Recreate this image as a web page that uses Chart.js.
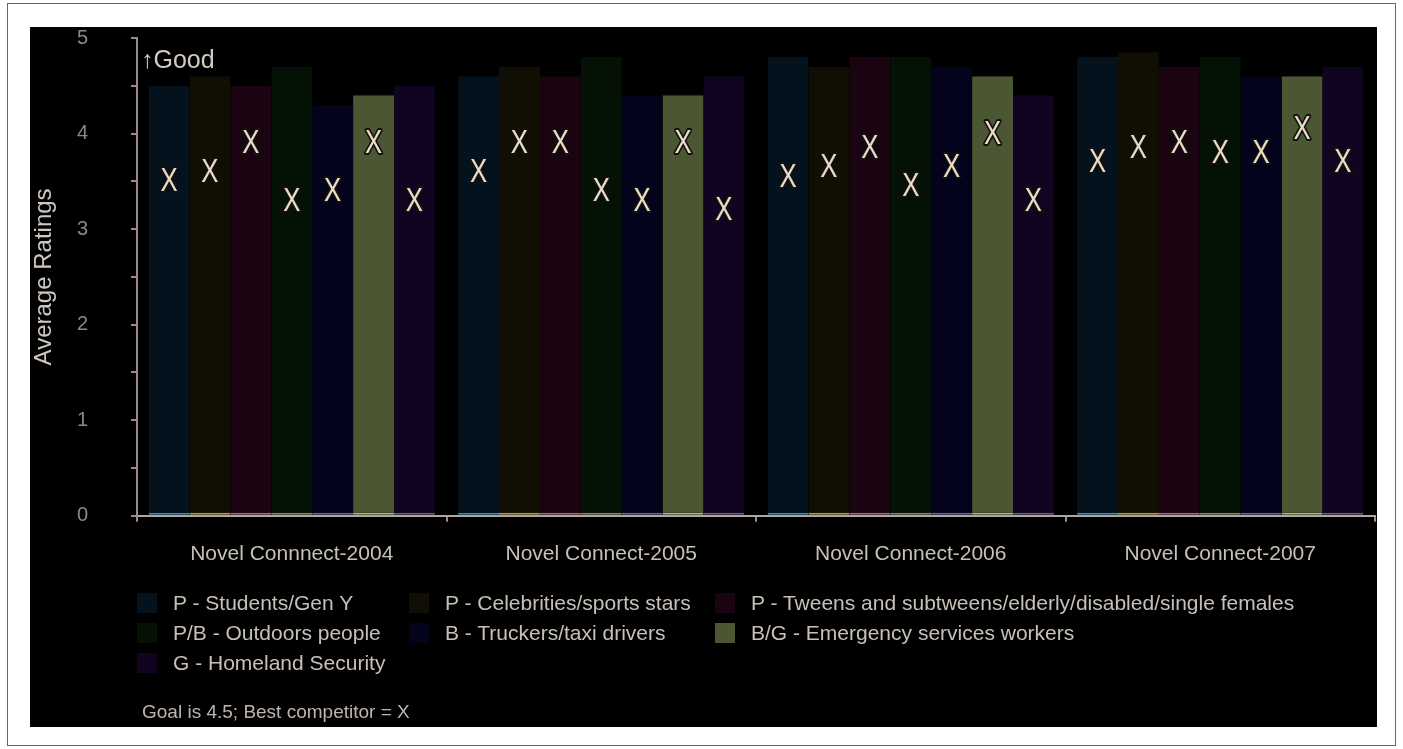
<!DOCTYPE html>
<html>
<head>
<meta charset="utf-8">
<script src="https://cdn.jsdelivr.net/npm/chart.js@4.4.1/dist/chart.umd.min.js"></script>
<style>
  body { margin: 0; background: #fff; width: 1403px; height: 749px; overflow: hidden; position: relative;
         font-family: 'Liberation Sans', Arial, sans-serif; }
  #frame { position: absolute; left: 7px; top: 3px; width: 1387px; height: 741px; border: 1px solid #666; }
  #board { position: absolute; left: 30px; top: 27px; width: 1347px; height: 700px; background: #000; }
  #good { position: absolute; left: 141px; top: 44px; color: #d2cac2; font-size: 25px; line-height: 30px; }
  #legend { position: absolute; left: 137px; top: 588px; display: grid;
            grid-template-columns: 272px 306px auto; grid-auto-rows: 30px; }
  .item { display: flex; align-items: center; color: #c8c0b8; font-size: 21px; white-space: nowrap; }
  .swatch { width: 20px; height: 20px; margin-right: 16px; flex: none; }
  #note { position: absolute; left: 142px; top: 700px; color: #bdb5ad; font-size: 19px; line-height: 24px; }
</style>
</head>
<body>
<div id="frame"></div>
<div id="board"><canvas id="chart"></canvas></div>
<div id="good">&#8593;Good</div>
<div id="legend"></div>
<div id="note">Goal is 4.5; Best competitor = X</div>
<script>
const years = ["Novel Connnect-2004", "Novel Connect-2005", "Novel Connect-2006", "Novel Connect-2007"];
const seriesNames = [
    "P - Students/Gen Y",
    "P - Celebrities/sports stars",
    "P - Tweens and subtweens/elderly/disabled/single females",
    "P/B - Outdoors people",
    "B - Truckers/taxi drivers",
    "B/G - Emergency services workers",
    "G - Homeland Security",
];

// own ratings per segment
const students = [4.5, 4.6, 4.8, 4.8];
const celebrities = [4.6, 4.7, 4.7, 4.85];
const tweens = [4.5, 4.6, 4.8, 4.7];
const outdoors = [4.7, 4.8, 4.8, 4.8];
const truckers = [4.3, 4.4, 4.7, 4.6];
const emergency = [4.4, 4.4, 4.6, 4.6];
const homeland = [4.5, 4.6, 4.4, 4.7];

// best competitor (the X marks)
const studentsBest = [3.5, 3.6, 3.55, 3.7];
const celebritiesBest = [3.6, 3.9, 3.65, 3.85];
const tweensBest = [3.9, 3.9, 3.85, 3.9];
const outdoorsBest = [3.3, 3.4, 3.45, 3.8];
const truckersBest = [3.4, 3.3, 3.65, 3.8];
const emergencyBest = [3.9, 3.9, 4.0, 4.05];
const homelandBest = [3.3, 3.2, 3.3, 3.7];

const yTicks = [0, 1, 2, 3, 4, 5];

const ratings = [students, celebrities, tweens, outdoors, truckers, emergency, homeland];
const competitor = [studentsBest, celebritiesBest, tweensBest, outdoorsBest, truckersBest, emergencyBest, homelandBest];
const fills = ["#04121e", "#110f04", "#1a0412", "#041206", "#03041c", "#4b5732", "#100420"];
const baseLines = ["#3b8fb5", "#b89a4a", "#a8688a", "#7c8c6c", "#5a6a9a", "#a8b888", "#6a5a8a"];

const FONT = "'Liberation Sans', Arial, sans-serif";
const axisColor = "#9a8c84";

// legend
const legend = document.getElementById("legend");
seriesNames.forEach((name, i) => {
    const item = document.createElement("div");
    item.className = "item";
    item.innerHTML = '<span class="swatch" style="background:' + fills[i] + '"></span>' + name;
    legend.appendChild(item);
});

const competitorMarks = {
    id: "competitorMarks",
    afterDatasetsDraw(chart) {
        const c = chart.ctx;
        const y = chart.scales.y;
        competitor.forEach((vals, i) => {
            const meta = chart.getDatasetMeta(i);
            vals.forEach((v, j) => {
                const px = meta.data[j].x;
                const py = y.getPixelForValue(v);
                c.save();
                c.translate(px, py);
                c.scale(0.78, 1);
                c.font = "33px " + FONT;
                c.textAlign = "center";
                c.textBaseline = "middle";
                c.lineJoin = "round";
                c.lineWidth = 4;
                c.strokeStyle = "#141210";
                c.strokeText("X", 0, 1);
                c.fillStyle = "#eadcc6";
                c.fillText("X", 0, 1);
                c.restore();
            });
        });
    },
};

new Chart(document.getElementById("chart"), {
    type: "bar",
    data: {
        labels: years,
        datasets: ratings.map((vals, i) => ({
            label: seriesNames[i],
            data: vals,
            backgroundColor: fills[i],
            borderColor: baseLines[i],
            borderWidth: { top: 0, left: 0, right: 0, bottom: 2 },
            borderSkipped: false,
            categoryPercentage: 0.925,
            barPercentage: 1.0,
        })),
    },
    options: {
        responsive: true,
        maintainAspectRatio: false,
        animation: false,
        layout: { padding: { left: 0, top: 11, right: 2, bottom: 140 } },
        plugins: {
            legend: { display: false },
            tooltip: { enabled: false },
        },
        scales: {
            x: {
                grid: { offset: true, drawOnChartArea: false, tickLength: 6, color: axisColor, lineWidth: 2 },
                border: { display: true, color: "#b0a69e", width: 2 },
                ticks: { color: "#c8c0b8", padding: 20, font: { family: FONT, size: 21 }, maxRotation: 0 },
            },
            y: {
                min: 0,
                max: 5,
                grid: { drawOnChartArea: false, tickLength: 6, color: axisColor, lineWidth: 2 },
                border: { display: true, color: axisColor, width: 2 },
                ticks: {
                    stepSize: 0.5,
                    color: "#8e8882",
                    padding: 43,
                    font: { family: FONT, size: 20 },
                    callback: (v) => (yTicks.includes(v) ? v : ""),
                },
                title: {
                    display: true,
                    text: "Average Ratings",
                    color: "#cfc7bf",
                    font: { family: FONT, size: 24 },
                    padding: { top: 0, bottom: 0 },
                },
                afterFit(scale) {
                    scale.width = 107;
                    // the large label gap should not push the plot area down
                    scale.paddingTop = 0;
                    scale.paddingBottom = 0;
                },
            },
        },
    },
    plugins: [competitorMarks],
});
</script>
</body>
</html>
